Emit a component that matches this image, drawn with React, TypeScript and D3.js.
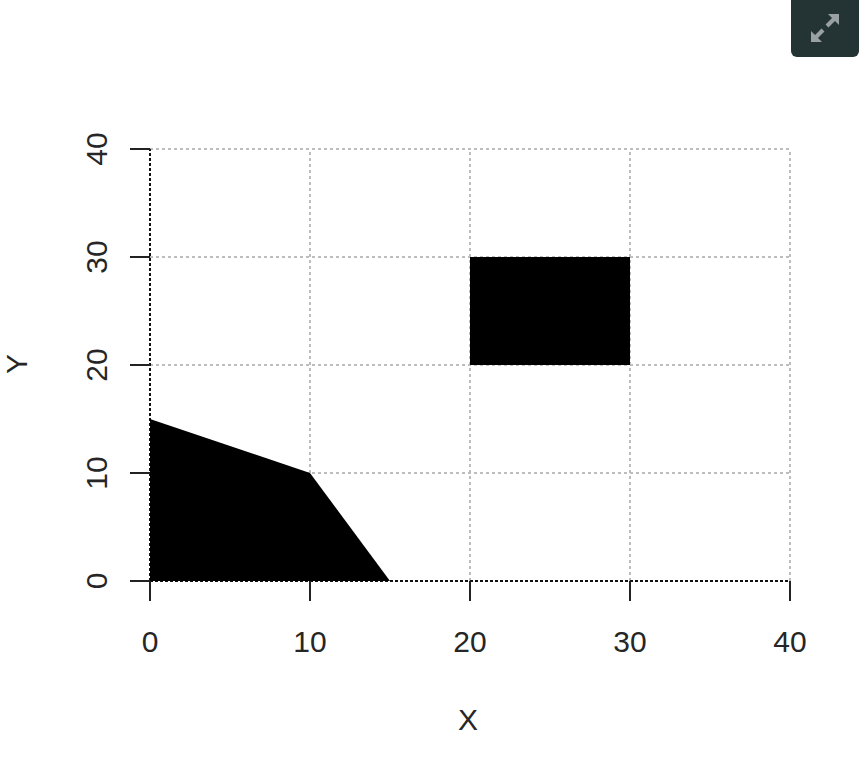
import React from "react";
import * as d3 from "d3";

const xTicks = [0, 10, 20, 30, 40];
const yTicks = [0, 10, 20, 30, 40];
const polygonX = [0, 0, 10, 15];
const polygonY = [0, 15, 10, 0];
const rectX = [20, 30];
const rectY = [20, 30];
const xTitle = "X";
const yTitle = "Y";

const W = 868;
const H = 772;
const FONT = "'Liberation Sans', Arial, sans-serif";
const TEXT = "#262626";

export default function App() {
  const x = d3.scaleLinear().domain([0, 40]).range([150, 790]);
  const y = d3.scaleLinear().domain([0, 40]).range([581, 149]);
  const polyPts: [number, number][] = polygonX.map((v, i) => [x(v), y(polygonY[i])]);
  const polyPath = d3.line()(polyPts) + "Z";
  const tickLen = 20;

  return (
    <svg
      width={W}
      height={H}
      style={{ position: "absolute", left: 0, top: 0, background: "#fff" }}
      shapeRendering="crispEdges"
    >
      <rect x={0} y={0} width={W} height={H} fill="#fff" />
      {xTicks.slice(1).map((t) => (
        <line key={"gx" + t} x1={x(t)} x2={x(t)} y1={y(0)} y2={y(40)} stroke="#bdbdbd" strokeWidth={1.5} strokeDasharray="3,3" />
      ))}
      {yTicks.slice(1).map((t) => (
        <line key={"gy" + t} x1={x(0)} x2={x(40)} y1={y(t)} y2={y(t)} stroke="#bdbdbd" strokeWidth={1.5} strokeDasharray="3,3" />
      ))}
      <line x1={x(0)} x2={x(0)} y1={y(0)} y2={y(40)} stroke="#111" strokeWidth={1.5} strokeDasharray="3,2" />
      <line x1={x(0)} x2={x(40)} y1={y(0)} y2={y(0)} stroke="#111" strokeWidth={1.5} strokeDasharray="3,2" />
      <path d={polyPath} fill="#000" shapeRendering="auto" />
      <rect x={x(rectX[0])} y={y(rectY[1])} width={x(rectX[1]) - x(rectX[0])} height={y(rectY[0]) - y(rectY[1])} fill="#000" />
      {xTicks.map((t) => (
        <g key={"xt" + t}>
          <line x1={x(t)} x2={x(t)} y1={y(0)} y2={y(0) + tickLen} stroke="#222" strokeWidth={2} />
          <text x={x(t)} y={652} textAnchor="middle" fontFamily={FONT} fontSize={30} fill={TEXT}>{t}</text>
        </g>
      ))}
      {yTicks.map((t) => (
        <g key={"yt" + t}>
          <line x1={x(0) - tickLen} x2={x(0)} y1={y(t)} y2={y(t)} stroke="#222" strokeWidth={2} />
          <text transform={`translate(107,${y(t)}) rotate(-90)`} textAnchor="middle" fontFamily={FONT} fontSize={30} fill={TEXT}>{t}</text>
        </g>
      ))}
      <text x={468} y={730} textAnchor="middle" fontFamily={FONT} fontSize={30} fill={TEXT}>{xTitle}</text>
      <text transform={`translate(27,364) rotate(-90)`} textAnchor="middle" fontFamily={FONT} fontSize={30} fill={TEXT}>{yTitle}</text>
      <g shapeRendering="auto">
        <rect x={791} y={-6} width={68} height={63} rx={6} fill="#243333" />
        <line x1={827} y1={26} x2={835} y2={18} stroke="#9aa1a4" strokeWidth={4} />
        <path d="M839,14 L839,25 L828,14 Z" fill="#9aa1a4" />
        <line x1={823} y1={30} x2={815} y2={38} stroke="#9aa1a4" strokeWidth={4} />
        <path d="M811,42 L811,31 L822,42 Z" fill="#9aa1a4" />
      </g>
    </svg>
  );
}
